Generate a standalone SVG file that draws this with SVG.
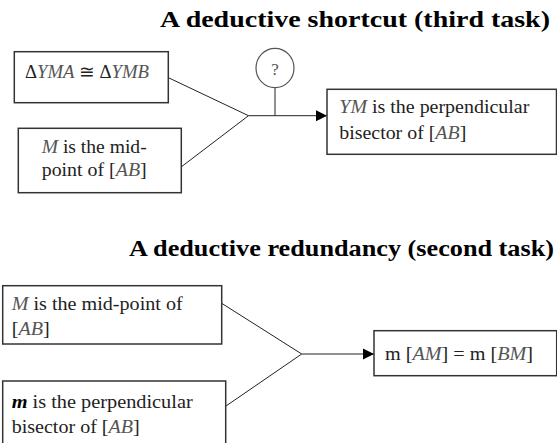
<svg xmlns="http://www.w3.org/2000/svg" width="557" height="443" viewBox="0 0 557 443" font-family="'Liberation Serif', 'Times New Roman', Times, serif">
<style>
text{font-family:'Liberation Serif','Times New Roman',Times,serif}
.title{font-weight:bold;font-size:23px;fill:#000}
.t{font-size:18px;fill:#222}
.i{font-style:italic;fill:#555}
.bi{font-style:italic;font-weight:bold;fill:#000}
.box{fill:#fff;stroke:#333;stroke-width:1.5}
.conn{stroke:#222;stroke-width:1;fill:none}
.circ{fill:#fff;stroke:#555;stroke-width:1.2}
</style>
<defs>
<marker id="arr" markerUnits="userSpaceOnUse" markerWidth="12" markerHeight="12" refX="11" refY="6" orient="auto">
<path d="M0,0.5 L11,6 L0,11.5 z" fill="#000"/>
</marker>
</defs>
<rect width="557" height="443" fill="#fff"/>

<text class="title" x="160" y="27" textLength="390" lengthAdjust="spacingAndGlyphs">A deductive shortcut (third task)</text>
<text class="title" x="129" y="256" textLength="425" lengthAdjust="spacingAndGlyphs">A deductive redundancy (second task)</text>

<g id="connectors">
<line class="conn" x1="168" y1="77.5" x2="248.5" y2="115.7"/>
<line class="conn" x1="181.5" y1="166.7" x2="248.5" y2="115.7"/>
<line class="conn" x1="248.5" y1="115.7" x2="327" y2="115.7" marker-end="url(#arr)"/>
<line class="conn" x1="275" y1="115.7" x2="275" y2="88"/>
<line class="conn" x1="221.7" y1="303.3" x2="301.7" y2="354"/>
<line class="conn" x1="225" y1="406.7" x2="301.7" y2="354"/>
<line class="conn" x1="301.7" y1="354" x2="374" y2="354" marker-end="url(#arr)"/>
</g>

<g id="n1">
<rect class="box" x="14.3" y="51.7" width="154" height="51"/>
<text class="t" x="25" y="78" textLength="124" lengthAdjust="spacingAndGlyphs">Δ<tspan class="i">YMA</tspan> ≅ Δ<tspan class="i">YMB</tspan></text>
</g>

<g id="n2">
<rect class="box" x="18.3" y="128.3" width="163" height="64.4"/>
<text class="t" x="41.7" y="153" textLength="105" lengthAdjust="spacingAndGlyphs"><tspan class="i">M</tspan> is the mid-</text>
<text class="t" x="41.7" y="175.7" textLength="105" lengthAdjust="spacingAndGlyphs">point of [<tspan class="i">AB</tspan>]</text>
</g>

<g id="q">
<ellipse class="circ" cx="275" cy="68" rx="19" ry="19.7"/>
<text class="t" x="275" y="75" text-anchor="middle" style="font-size:17px;fill:#555">?</text>
</g>

<g id="n3">
<rect class="box" x="327" y="89.3" width="229.5" height="65"/>
<text class="t" x="339.3" y="113.3" textLength="190" lengthAdjust="spacingAndGlyphs"><tspan class="i">YM</tspan> is the perpendicular</text>
<text class="t" x="339.3" y="139.3" textLength="127" lengthAdjust="spacingAndGlyphs">bisector of [<tspan class="i">AB</tspan>]</text>
</g>

<g id="n4">
<rect class="box" x="2.7" y="285.7" width="219" height="58.3"/>
<text class="t" x="11.7" y="310" textLength="171" lengthAdjust="spacingAndGlyphs"><tspan class="i">M</tspan> is the mid-point of</text>
<text class="t" x="11.7" y="335" textLength="38" lengthAdjust="spacingAndGlyphs">[<tspan class="i">AB</tspan>]</text>
</g>

<g id="n5">
<rect class="box" x="2.7" y="381" width="223" height="70"/>
<text class="t" x="11.7" y="408.3" textLength="181" lengthAdjust="spacingAndGlyphs"><tspan class="bi">m</tspan> is the perpendicular</text>
<text class="t" x="11.7" y="433.3" textLength="128" lengthAdjust="spacingAndGlyphs">bisector of [<tspan class="i">AB</tspan>]</text>
</g>

<g id="n6">
<rect class="box" x="374" y="330.7" width="182.7" height="45"/>
<text class="t" x="385" y="360" textLength="148" lengthAdjust="spacingAndGlyphs">m [<tspan class="i">AM</tspan>] = m [<tspan class="i">BM</tspan>]</text>
</g>
</svg>
